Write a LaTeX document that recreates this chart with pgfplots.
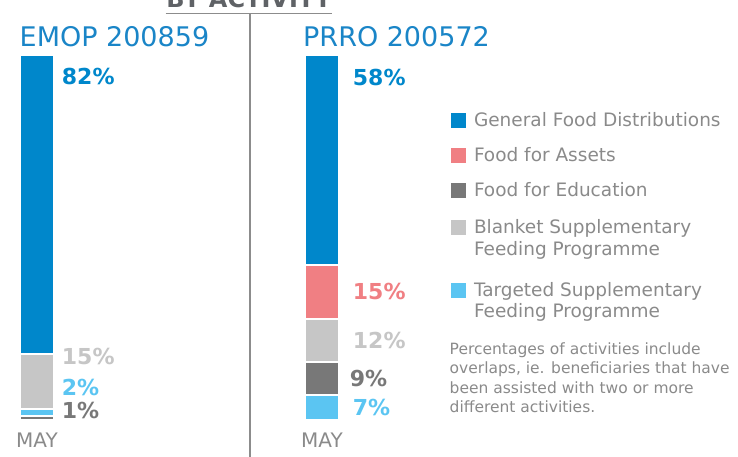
\documentclass[border=0pt]{standalone}
\usepackage{pgfplots}
\pgfplotsset{compat=1.18}
\usepackage{fontspec}
\setmainfont{DejaVu Sans}
\definecolor{gfd}{HTML}{0087CB}
\definecolor{ffa}{HTML}{F07F83}
\definecolor{ffe}{HTML}{787878}
\definecolor{bsfp}{HTML}{C6C6C6}
\definecolor{tsfp}{HTML}{5BC5F2}
\definecolor{titleblue}{HTML}{1A85C7}
\definecolor{txtgray}{HTML}{8A8A8A}
\definecolor{divgray}{HTML}{8C8C8C}
\definecolor{headgray}{HTML}{5F6266}
\newcommand\hstrut{\rule[-6.45pt]{0pt}{21.5pt}}
\pgfplotsset{
  barax/.style={scale only axis, width=34pt, height=365pt, xmin=-0.5, xmax=0.5,
    ymin=0, hide axis, clip=false, ybar stacked, bar width=34pt, anchor=south west},
  seg/.style={fill=#1, draw=white, line width=2pt},
}
\tikzset{
  lab/.style={anchor=west, inner sep=0pt, font=\bfseries\fontsize{22}{26}\selectfont, text=#1},
}
\begin{document}
\begin{tikzpicture}[x=1pt,y=1pt]
\path[use as bounding box] (0,0) rectangle (738,456);
\draw[divgray, line width=1.7pt] (165.5,442.5) -- (332,442.5);
\draw[divgray, line width=1.7pt] (250,442.5) -- (250,-2);
\node[anchor=base, inner sep=0pt, text=headgray, font=\bfseries\fontsize{24}{28}\selectfont] at (249,448) {BY ACTIVITY};
\node[anchor=base west, inner sep=0pt, text=titleblue, font=\fontsize{27}{32}\selectfont] at (19.5,409) {EMOP 200859};
\node[anchor=base west, inner sep=0pt, text=titleblue, font=\fontsize{27}{32}\selectfont] at (303,409) {PRRO 200572};

% EMOP 200859
\begin{axis}[barax, at={(20pt,36pt)}, ymax=100]
\addplot[seg=ffe]  coordinates {(0,1)};
\addplot[seg=tsfp] coordinates {(0,2)};
\addplot[seg=bsfp] coordinates {(0,15)};
\addplot[seg=gfd]  coordinates {(0,82)};
\node[lab=gfd,  xshift=7.7pt] at (axis cs:0.5,94) {82\%};
\node[lab=bsfp, xshift=7.7pt] at (axis cs:0.5,17.3) {15\%};
\node[lab=tsfp, xshift=7.7pt] at (axis cs:0.5,8.8) {2\%};
\node[lab=ffe,  xshift=7.7pt] at (axis cs:0.5,2.5) {1\%};
\node[anchor=north, inner sep=0pt, text=txtgray, font=\fontsize{20}{24}\selectfont, yshift=-12.7pt] at (axis cs:0,0) {MAY};
\end{axis}

% PRRO 200572
\begin{axis}[barax, at={(305pt,36pt)}, ymax=101]
\addplot[seg=tsfp] coordinates {(0,7)};
\addplot[seg=ffe]  coordinates {(0,9)};
\addplot[seg=bsfp] coordinates {(0,12)};
\addplot[seg=ffa]  coordinates {(0,15)};
\addplot[seg=gfd]  coordinates {(0,58)};
\node[lab=gfd,  xshift=13.7pt] at (axis cs:0.5,94.9) {58\%};
\node[lab=ffa,  xshift=13.7pt] at (axis cs:0.5,35.5) {15\%};
\node[lab=bsfp, xshift=13.7pt] at (axis cs:0.5,22) {12\%};
\node[lab=ffe,  xshift=10.7pt] at (axis cs:0.5,11.5) {9\%};
\node[lab=tsfp, xshift=13.7pt] at (axis cs:0.5,3.5) {7\%};
\node[anchor=north, inner sep=0pt, text=txtgray, font=\fontsize{20}{24}\selectfont, yshift=-12.7pt] at (axis cs:0,0) {MAY};
\end{axis}

% legend
\begin{axis}[scale only axis, width=34pt, height=365pt, xmin=0, xmax=1, ymin=0, ymax=1,
  hide axis, at={(305pt,36pt)}, anchor=south west,
  legend style={at={(axis description cs:4.294,0.8448)}, anchor=north west,
    draw=none, fill=none, inner sep=0pt, outer sep=0pt, row sep=13.5pt, column sep=8pt,
    font=\fontsize{18.5}{21.5}\selectfont, text=txtgray,
    cells={anchor=base west}, nodes={inner sep=0pt, text depth=}},
  legend image code/.code={\fill[#1] (0pt,-1.5pt) rectangle (15pt,13.5pt);}]
\addlegendimage{fill=gfd, draw=none}
\addlegendentry{\hstrut General Food Distributions}
\addlegendimage{fill=ffa, draw=none}
\addlegendentry{\hstrut Food for Assets}
\addlegendimage{fill=ffe, draw=none}
\addlegendentry{\hstrut Food for Education}
\addlegendimage{fill=bsfp, draw=none}
\addlegendentry{\parbox[t]{260pt}{\rule{0pt}{17.05pt}\hstrut Blanket Supplementary\par\hstrut\rule[-12.45pt]{0pt}{1pt}Feeding Programme}}
\addlegendimage{fill=tsfp, draw=none}
\addlegendentry{\parbox[t]{260pt}{\hstrut Targeted Supplementary\par\hstrut Feeding Programme}}
\end{axis}

\node[anchor=base west, inner sep=0pt, text=txtgray] at (449.5,102) {\parbox[t]{300pt}{\fontsize{15.5}{19.5}\selectfont Percentages of activities include\\overlaps, ie. beneficiaries that have\\been assisted with two or more\\different activities.}};
\end{tikzpicture}
\end{document}
